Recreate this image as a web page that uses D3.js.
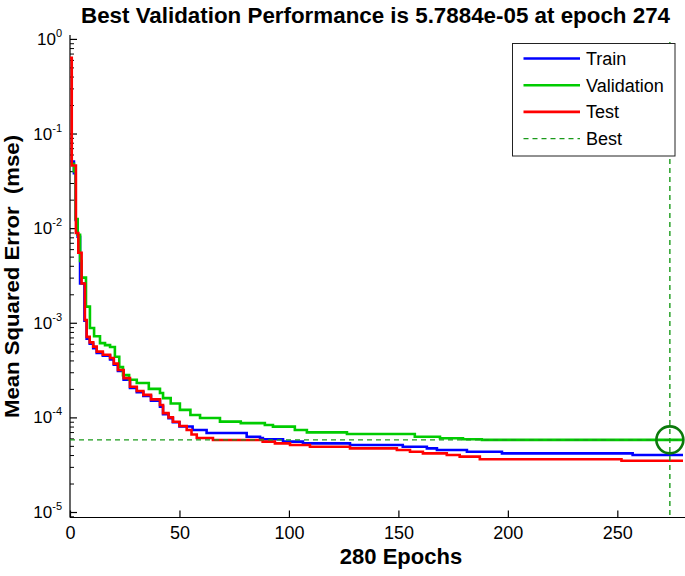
<!DOCTYPE html>
<html><head><meta charset="utf-8">
<script src="https://cdn.jsdelivr.net/npm/d3@7"></script>
<style>
body{margin:0;background:#fff}
svg text{font-family:"Liberation Sans",Arial,sans-serif;fill:#000}
</style>
</head><body>
<svg id="chart" width="685" height="576"></svg>
<script>
// ---- data ----
const trainEpochs = [0,1.8,2.6,3.5,4.6,6.6,7.6,9,10.6,12.2,15,18.3,20,21.9,24.5,27.4,30.5,33.5,37,41.1,42.5,45,47,50,56,62.4,80.7,86.8,88.1,97.3,106.4,127.9,152,163,167.6,181.3,197.3,257,280];
const trainValues = [0.0505,0.038,0.0122,0.0081,0.0026,0.00105,0.00068,0.0006,0.00054,0.00048,0.00045,0.00041,0.00036,0.00031,0.00025,0.000205,0.000185,0.000168,0.00015,0.00013,0.000108,9.8e-5,8.9e-5,8.0e-5,7.36e-5,6.84e-5,6.25e-5,6.06e-5,5.87e-5,5.54e-5,5.32e-5,5.1e-5,4.9e-5,4.71e-5,4.52e-5,4.34e-5,4.17e-5,4.01e-5,4.01e-5];

const valEpochs = [0,1.8,2.6,3.5,4.6,5.3,7.3,9.1,11,13.7,16,18.3,20.5,22.5,24.2,27,30.5,36,41.1,42.5,46,50.2,55,59.4,68.5,78,89,92.7,102.7,108.2,126.5,157.5,169,179.5,188.1,280];
const valValues = [0.048,0.04,0.0125,0.0085,0.0045,0.003,0.00148,0.00088,0.00072,0.00061,0.00058,0.000555,0.000438,0.00034,0.00028,0.00025,0.000231,0.0002,0.000181,0.00016,0.00014,0.00012,0.000106,9.86e-5,9.01e-5,8.7e-5,8.3e-5,7.98e-5,7.36e-5,6.95e-5,6.68e-5,6.25e-5,6.01e-5,5.87e-5,5.7884e-5,5.7884e-5];

const testEpochs = [0,0.8,2.7,3.8,5.3,6.8,7.6,9,10.6,12.2,15,18.3,20,21.9,24.5,27.4,30.5,33.5,37,41.1,42.5,45,47,50,53.3,55.5,57.9,65.3,88,93.6,100.5,109.6,127.9,149.3,155.3,161.2,172.1,178,187.2,251.9,280];
const testValues = [0.63,0.046,0.0089,0.0055,0.0026,0.00107,0.00071,0.00062,0.00056,0.000495,0.00046,0.000425,0.00037,0.000317,0.00026,0.000211,0.00019,0.000173,0.000155,0.000135,0.000111,0.0001,9.0e-5,8.1e-5,7.36e-5,6.6e-5,6.06e-5,5.77e-5,5.54e-5,5.32e-5,5.1e-5,4.9e-5,4.71e-5,4.52e-5,4.34e-5,4.17e-5,4.01e-5,3.85e-5,3.61e-5,3.48e-5,3.48e-5];

const xTickValues = [0,50,100,150,200,250];
const yTickExponents = [-5,-4,-3,-2,-1,0];
const legendLabels = ["Train","Validation","Test","Best"];
const bestEpoch = 274;
const bestValue = 5.7884e-5;
const titleText = "Best Validation Performance is 5.7884e-05 at epoch 274";
const xLabelText = "280 Epochs";
const yLabelText = "Mean Squared Error  (mse)";

// ---- drawing ----
const colors = {train:"#0000ff", val:"#00cc00", test:"#ff0000", best:"#1a9a1a", circle:"#0b7a0b"};
const svg = d3.select("#chart");
const x = d3.scaleLinear().domain([0,280]).range([70,683]);
const y = d3.scaleLog().domain([8.75e-6,1]).range([517.5,38.9]);

// x axis
const gx = svg.append("g").attr("transform",`translate(0,${y.range()[0]})`)
  .call(d3.axisBottom(x).tickValues(xTickValues).tickSizeInner(-7).tickSizeOuter(0).tickPadding(9));
gx.selectAll("text").style("font-size","18px");
gx.selectAll("path,line").attr("stroke","#000").attr("stroke-width",1.2);
gx.select(".domain").attr("d",`M${x.range()[0]},0H685`);

// y axis major
const majors = yTickExponents.map(e=>Math.pow(10,e));
const gy = svg.append("g").attr("transform",`translate(${x.range()[0]},0)`)
  .call(d3.axisLeft(y).tickValues(majors).tickSizeInner(-7).tickSizeOuter(0).tickFormat(""));
gy.selectAll("path,line").attr("stroke","#000").attr("stroke-width",1.2);
gy.select(".domain").attr("d",`M0,${y.range()[0]}V35`);
// minor ticks
const minors = [];
yTickExponents.forEach(e=>{ for(let k=2;k<=9;k++){ const v=k*Math.pow(10,e); if(v>=y.domain()[0]&&v<=y.domain()[1]) minors.push(v);} });
minors.push(9e-6);
const gm = svg.append("g").attr("transform",`translate(${x.range()[0]},0)`)
  .call(d3.axisLeft(y).tickValues(minors.filter(v=>v>=y.domain()[0])).tickSizeInner(-4).tickSizeOuter(0).tickFormat(""));
gm.select(".domain").remove();
gm.selectAll("line").attr("stroke","#000").attr("stroke-width",1);
// y tick labels 10^e
const yl = svg.append("g");
yTickExponents.forEach(e=>{
  const t = yl.append("text").attr("x",62).attr("y",y(Math.pow(10,e))+6).attr("text-anchor","end").style("font-size","17px");
  t.append("tspan").text("10");
  t.append("tspan").attr("dy",-8).style("font-size","11px").text(String(e));
});

// lines
const line = d3.line().x(d=>x(d[0])).y(d=>y(d[1])).curve(d3.curveStepAfter);
const series = [
  {ep:trainEpochs, v:trainValues, c:colors.train},
  {ep:valEpochs, v:valValues, c:colors.val},
  {ep:testEpochs, v:testValues, c:colors.test}
];
series.forEach(s=>{
  svg.append("path").datum(s.ep.map((e,i)=>[e,s.v[i]]))
    .attr("d",line).attr("fill","none").attr("stroke",s.c).attr("stroke-width",2.6).attr("stroke-linejoin","miter");
});

// best lines
svg.append("line").attr("x1",x.range()[0]).attr("x2",x.range()[1]).attr("y1",y(bestValue)).attr("y2",y(bestValue))
  .attr("stroke",colors.best).attr("stroke-width",1.4).attr("stroke-dasharray","5,4");
svg.append("line").attr("x1",x(bestEpoch)).attr("x2",x(bestEpoch)).attr("y1",y.range()[1]+3).attr("y2",y.range()[0])
  .attr("stroke",colors.best).attr("stroke-width",1.4).attr("stroke-dasharray","5,4");
svg.append("circle").attr("cx",x(bestEpoch)).attr("cy",y(bestValue)).attr("r",13.5)
  .attr("fill","none").attr("stroke",colors.circle).attr("stroke-width",2.6);

// legend
const lg = svg.append("g");
lg.append("rect").attr("x",512.5).attr("y",43.5).attr("width",162.5).attr("height",112.5)
  .attr("fill","#fff").attr("stroke","#222").attr("stroke-width",1);
const legColors = [colors.train, colors.val, colors.test, colors.best];
legendLabels.forEach((lab,i)=>{
  const yy = 58.5 + i*26.7;
  const ln = lg.append("line").attr("x1",523.5).attr("x2",580).attr("y1",yy).attr("y2",yy)
    .attr("stroke",legColors[i]).attr("stroke-width", i===3?1.4:2.6);
  if(i===3) ln.attr("stroke-dasharray","5,4");
  lg.append("text").attr("x",586).attr("y",yy+6.5).style("font-size","18px").text(lab);
});

// titles
svg.append("text").attr("x",375.5).attr("y",23).attr("text-anchor","middle")
  .style("font-size","22px").style("font-weight","bold")
  .attr("textLength",589).attr("lengthAdjust","spacingAndGlyphs").text(titleText);
svg.append("text").attr("x",401).attr("y",564).attr("text-anchor","middle")
  .style("font-size","22px").style("font-weight","bold").text(xLabelText);
svg.append("text").attr("transform","translate(18.5,276.5) rotate(-90)").attr("text-anchor","middle")
  .style("font-size","20px").style("font-weight","bold").style("white-space","pre")
  .attr("textLength",283).attr("lengthAdjust","spacingAndGlyphs").text(yLabelText);
</script>
</body></html>
